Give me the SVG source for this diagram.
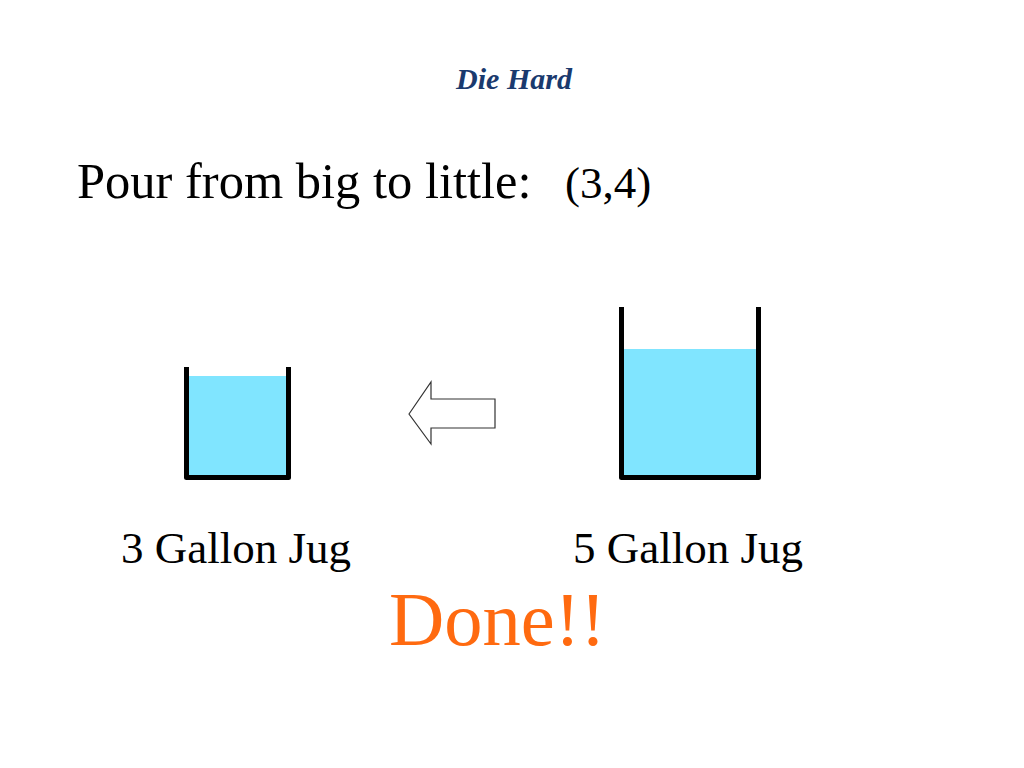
<svg xmlns="http://www.w3.org/2000/svg" width="1024" height="768" viewBox="0 0 1024 768">
<style>
.t{font-family:"Liberation Serif","Times New Roman",serif;fill:#000}
.jug{fill:none;stroke:#000;stroke-width:5;stroke-linejoin:round}
.water{fill:#80E5FF}
</style>
<rect width="1024" height="768" fill="#fff"/>
<text x="514" y="89" text-anchor="middle" style="font-family:'Liberation Serif',serif;font-style:italic;font-weight:bold;font-size:30px;fill:#1A3A6E">Die Hard</text>
<text class="t" x="77" y="198" font-size="50.5">Pour from big to little:</text>
<text class="t" x="565" y="198" font-size="45">(3,4)</text>
<g id="jug3">
<rect class="water" x="188" y="376" width="98" height="101"/>
<path class="jug" d="M186.5,367 V477.5 H288.5 V367"/>
</g>
<g id="jug5">
<rect class="water" x="624" y="349" width="132" height="128"/>
<path class="jug" d="M621.5,307 V477.5 H758.5 V307"/>
</g>
<g id="connectors">
<path d="M409,414 L431,382 V399 H495 V428 H431 V444 Z" fill="#fff" stroke="#333" stroke-width="1.2"/>
</g>
<text class="t" x="121" y="563" font-size="45">3 Gallon Jug</text>
<text class="t" x="573" y="563" font-size="45">5 Gallon Jug</text>
<text x="389" y="645" style="font-family:'Liberation Serif',serif;font-size:76.5px;fill:#FF6A10">Done!!</text>
</svg>
